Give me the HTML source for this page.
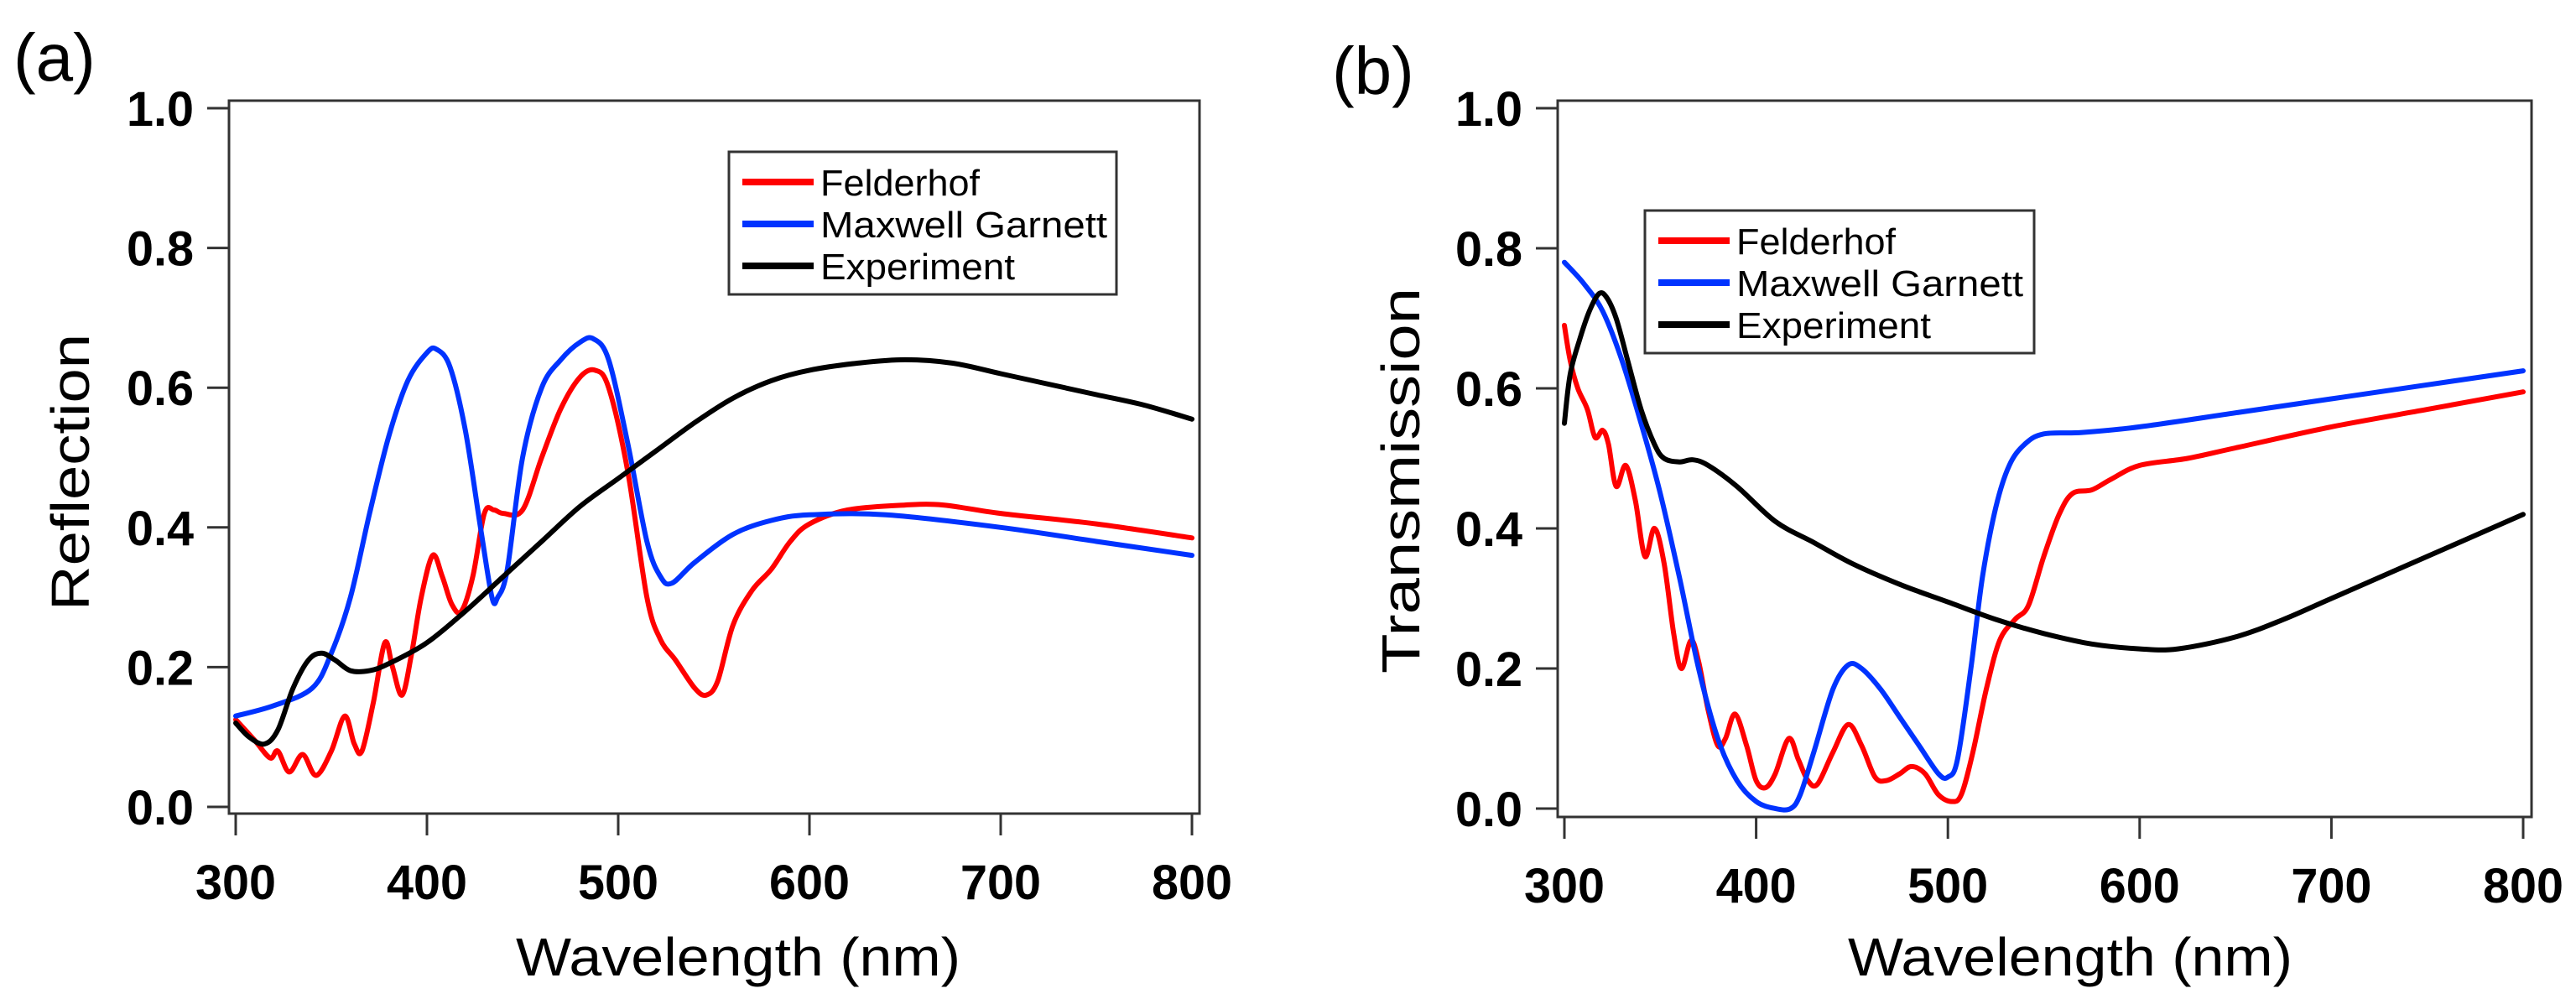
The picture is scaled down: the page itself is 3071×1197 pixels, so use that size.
<!DOCTYPE html>
<html><head><meta charset="utf-8"><style>
html,body{margin:0;padding:0;background:#fff;}
svg{display:block;}
text{font-family:"Liberation Sans",sans-serif;fill:#000;}
.tick{font-weight:bold;font-size:58px;}
.title{font-size:64px;}
.plab{font-size:80px;}
.leg{font-size:44px;}
</style></head><body>
<svg id="fig" width="3071" height="1197" viewBox="0 0 3071 1197" xmlns="http://www.w3.org/2000/svg">
<g id="pa"></g>
<g id="pb"></g>
</svg>
<script>
// ---- Panel (a) Reflection data ----
const aRedX = [300,310,318,322,328,335,342,350,357,362,366,372,378,382,387,392,397,403,408,413,418,424,430,435,440,450,460,470,480,488,495,505,515,522,530,540,546,552,560,570,580,590,600,620,650,670,700,750,800];
const aRedY = [0.125,0.095,0.07,0.08,0.05,0.075,0.045,0.08,0.13,0.09,0.08,0.15,0.235,0.2,0.16,0.22,0.3,0.36,0.33,0.29,0.28,0.33,0.42,0.425,0.42,0.425,0.5,0.57,0.615,0.625,0.6,0.48,0.3,0.24,0.21,0.17,0.16,0.18,0.26,0.31,0.34,0.38,0.405,0.425,0.432,0.432,0.42,0.405,0.385];
const aBlueX = [300,320,340,350,360,370,380,390,400,405,412,420,428,434,437,442,450,460,470,480,487,495,505,515,522,528,540,560,580,600,640,700,750,800];
const aBlueY = [0.13,0.145,0.17,0.22,0.3,0.42,0.53,0.61,0.65,0.655,0.63,0.54,0.4,0.3,0.3,0.34,0.5,0.6,0.64,0.665,0.67,0.64,0.52,0.38,0.33,0.32,0.35,0.39,0.41,0.418,0.418,0.4,0.38,0.36];
const aBlackX = [300,307,315,322,330,338,345,352,360,370,380,400,420,440,460,480,500,520,540,560,580,600,625,650,675,700,725,750,775,800];
const aBlackY = [0.12,0.1,0.09,0.11,0.17,0.21,0.22,0.21,0.195,0.195,0.205,0.235,0.28,0.33,0.38,0.43,0.47,0.51,0.55,0.585,0.61,0.625,0.635,0.64,0.635,0.62,0.605,0.59,0.575,0.555];
// ---- Panel (b) Transmission data ----
const bRedX = [300,303,307,312,316,320,323,327,332,337,342,347,352,357,361,366,370,375,380,384,389,395,400,405,410,417,422,427,432,440,448,455,462,468,475,481,488,495,502,507,513,520,527,535,542,550,558,565,575,585,600,625,650,700,750,800];
const bRedY = [0.69,0.64,0.6,0.57,0.53,0.54,0.52,0.46,0.49,0.44,0.36,0.4,0.35,0.25,0.2,0.24,0.21,0.14,0.09,0.1,0.135,0.09,0.04,0.03,0.05,0.1,0.07,0.04,0.035,0.08,0.12,0.09,0.045,0.04,0.05,0.06,0.05,0.02,0.01,0.02,0.08,0.17,0.24,0.27,0.29,0.36,0.42,0.45,0.455,0.47,0.49,0.5,0.515,0.545,0.57,0.595];
const bBlueX = [300,310,320,330,340,350,360,370,380,390,400,410,418,423,430,440,448,455,465,475,485,495,500,505,512,518,525,532,540,550,570,600,650,700,750,800];
const bBlueY = [0.78,0.75,0.71,0.64,0.55,0.45,0.33,0.2,0.1,0.04,0.01,0.0,0.0,0.02,0.08,0.17,0.205,0.2,0.17,0.13,0.09,0.05,0.045,0.07,0.2,0.33,0.43,0.49,0.52,0.535,0.537,0.545,0.565,0.585,0.605,0.625];
const bBlackX = [300,303,308,313,318,322,327,333,340,347,352,360,367,375,390,410,430,450,475,500,525,550,575,600,620,650,675,700,750,800];
const bBlackY = [0.55,0.62,0.67,0.71,0.735,0.73,0.7,0.64,0.57,0.52,0.5,0.495,0.498,0.49,0.46,0.41,0.38,0.35,0.32,0.295,0.27,0.25,0.235,0.228,0.228,0.245,0.27,0.3,0.36,0.42];

const xTicks = [300,400,500,600,700,800];
const yTicks = [0.0,0.2,0.4,0.6,0.8,1.0];
const yTickLabels = ["0.0","0.2","0.4","0.6","0.8","1.0"];
const legendNames = ["Felderhof","Maxwell Garnett","Experiment"];
const colors = ["#ff0000","#0033ff","#000000"];

const NS = "http://www.w3.org/2000/svg";
function mk(parent, tag, attrs, text){
  const e = document.createElementNS(NS, tag);
  for (const k in attrs) e.setAttribute(k, attrs[k]);
  if (text !== undefined) e.textContent = text;
  parent.appendChild(e);
  return e;
}
function smoothPath(pts){
  let d = "M" + pts[0][0].toFixed(1) + "," + pts[0][1].toFixed(1);
  for (let i = 0; i < pts.length - 1; i++){
    const p0 = pts[Math.max(0,i-1)], p1 = pts[i], p2 = pts[i+1], p3 = pts[Math.min(pts.length-1,i+2)];
    const c1x = p1[0] + (p2[0]-p0[0])/6, c1y = p1[1] + (p2[1]-p0[1])/6;
    const c2x = p2[0] - (p3[0]-p1[0])/6, c2y = p2[1] - (p3[1]-p1[1])/6;
    d += " C" + c1x.toFixed(1) + "," + c1y.toFixed(1) + " " + c2x.toFixed(1) + "," + c2y.toFixed(1) + " " + p2[0].toFixed(1) + "," + p2[1].toFixed(1);
  }
  return d;
}
function panel(g, cfg){
  const xs = v => cfg.x0 + (v - 300) * (cfg.x1 - cfg.x0) / 500;
  const ys = v => cfg.y0 - v * (cfg.y0 - cfg.y1);
  const fr = mk(g, "rect", {x:cfg.bl, y:cfg.bt, width:cfg.br-cfg.bl, height:cfg.bb-cfg.bt, fill:"none", stroke:"#333", "stroke-width":3});
  
  
  yTicks.forEach((t,i)=>{
    const y = ys(t);
    const l = mk(g, "line", {x1:cfg.bl-26, x2:cfg.bl, y1:y, y2:y, stroke:"#333", "stroke-width":3});
    
    
    const tx = mk(g, "text", {x:cfg.bl-42, y:y+21, "text-anchor":"end", class:"tick", textLength:80, lengthAdjust:"spacingAndGlyphs"}, yTickLabels[i]);
    
    
  });
  xTicks.forEach(t=>{
    const x = xs(t);
    const l = mk(g, "line", {x1:x, x2:x, y1:cfg.bb, y2:cfg.bb+26, stroke:"#333", "stroke-width":3});
    
    
    const tx = mk(g, "text", {x:x, y:cfg.bb+102, "text-anchor":"middle", class:"tick", textLength:96, lengthAdjust:"spacingAndGlyphs"}, String(t));
    
    
  });
  cfg.series.forEach((s,i)=>{
    const pts = s[0].map((xv,j)=>[xs(xv), ys(s[1][j])]);
    const p = mk(g, "path", {d:smoothPath(pts), fill:"none", stroke:colors[i], "stroke-width":6, "stroke-linejoin":"round", "stroke-linecap":"round"});
    
    
  });
  const lg = mk(g, "g", {});
  
  
  const lb = mk(lg, "rect", {x:cfg.lx, y:cfg.ly, width:cfg.lw, height:170, fill:"#fff", stroke:"#333", "stroke-width":3});
  
  
  legendNames.forEach((n,i)=>{
    const yy = cfg.ly + 36 + i*50;
    const ln = mk(lg, "line", {x1:cfg.lx+16, x2:cfg.lx+101, y1:yy, y2:yy, stroke:colors[i], "stroke-width":8});
    
    
    const tx = mk(lg, "text", {x:cfg.lx+109, y:yy+16, class:"leg", textLength:[190,342,232][i], lengthAdjust:"spacingAndGlyphs"}, n);
    
    
  });
  const xt = mk(g, "text", {x:cfg.xtx, y:1163, "text-anchor":"middle", class:"title", textLength:530, lengthAdjust:"spacingAndGlyphs"}, "Wavelength (nm)");
  
  
  const yt = mk(g, "text", {x:0, y:0, "text-anchor":"middle", class:"title", textLength:cfg.ytl, lengthAdjust:"spacingAndGlyphs", transform:"translate("+cfg.ytx+","+cfg.yty+") rotate(-90)"}, cfg.ytitle);
  
  
  const pl = mk(g, "text", {x:cfg.plx, y:cfg.ply, class:"plab"}, cfg.plabel);
  
  
}
panel(document.getElementById('pa'), {
  x0:281, x1:1421, y0:962, y1:129, bl:273, br:1430, bt:120, bb:970,
  series:[[aRedX,aRedY],[aBlueX,aBlueY],[aBlackX,aBlackY]],
  lx:869, ly:181, lw:462, xtx:880, ytx:106, yty:563, ytl:330, ytitle:"Reflection",
  plx:16, ply:96, plabel:"(a)"
});
panel(document.getElementById('pb'), {
  x0:1865, x1:3008, y0:964, y1:129, bl:1857, br:3018, bt:120, bb:974,
  series:[[bRedX,bRedY],[bBlueX,bBlueY],[bBlackX,bBlackY]],
  lx:1961, ly:251, lw:464, xtx:2468, ytx:1692, yty:573, ytl:460, ytitle:"Transmission",
  plx:1588, ply:112, plabel:"(b)"
});
</script>
</body></html>
